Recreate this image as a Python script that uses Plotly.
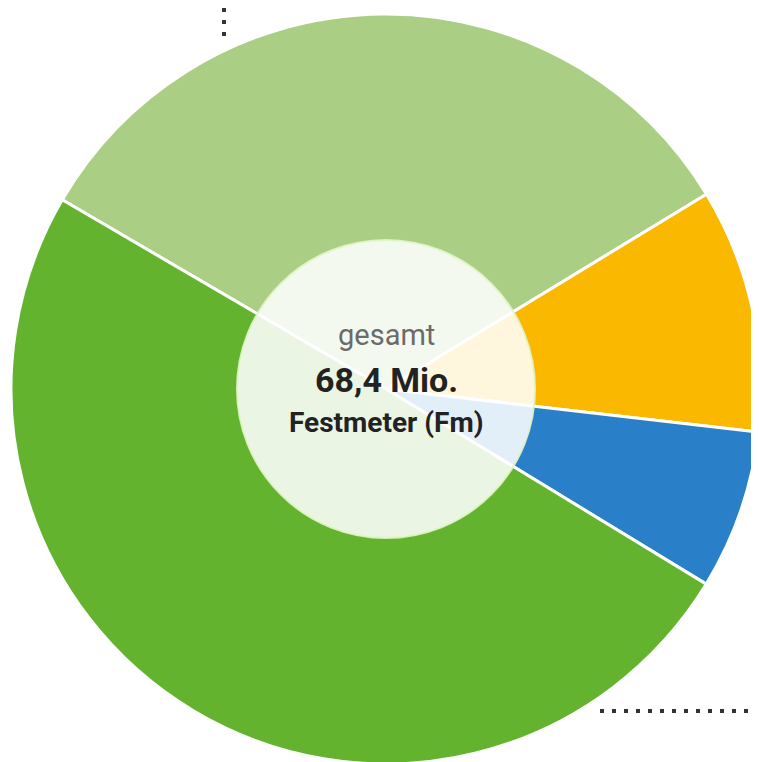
import plotly.graph_objects as go

# Data (Mio. Festmeter), clockwise order starting at the upper-left boundary
categories = ["Kategorie A", "Kategorie B", "Kategorie C", "Kategorie D"]
values = [22.5, 7.2, 4.7, 34.0]
colors = ["#aacf84", "#fbb800", "#2a80c8", "#64b32e"]
total_label = "68,4 Mio."

W, H = 759, 762
OFF = 8  # page body margin offset
cx, cy, R = 386 - OFF, 389 - OFF, 375
r_in = 149

fig = go.Figure()
fig.add_trace(go.Pie(
    labels=categories,
    values=values,
    sort=False,
    direction="clockwise",
    rotation=300.3,
    marker=dict(colors=colors, line=dict(color="white", width=3)),
    textinfo="none",
    hoverinfo="label+value",
    showlegend=False,
    domain=dict(x=[(cx - R) / W, (cx + R) / W], y=[1 - (cy + R) / H, 1 - (cy - R) / H]),
))

# translucent centre disc
fig.add_shape(type="circle", xref="paper", yref="paper",
              x0=(cx - r_in) / W, x1=(cx + r_in) / W,
              y0=1 - (cy + r_in) / H, y1=1 - (cy - r_in) / H,
              fillcolor="rgba(255,255,255,0.87)",
              line=dict(color="rgba(225,245,200,0.9)", width=2))

FONT = "Roboto, Liberation Sans, sans-serif"
fig.add_annotation(x=cx / W, y=1 - (335 - OFF) / H, xref="paper", yref="paper", showarrow=False,
                   text="gesamt", font=dict(family=FONT, size=29, color="#6b6b6b"))
fig.add_annotation(x=cx / W, y=1 - (380 - OFF) / H, xref="paper", yref="paper", showarrow=False,
                   text="<b>" + total_label + "</b>", font=dict(family=FONT, size=34, color="#222222"))
fig.add_annotation(x=cx / W, y=1 - (423 - OFF) / H, xref="paper", yref="paper", showarrow=False,
                   text="<b>Festmeter (Fm)</b>", font=dict(family=FONT, size=28, color="#222222"))

# dotted leader lines
fig.add_shape(type="line", xref="paper", yref="paper", x0=(224 - OFF) / W, x1=(224 - OFF) / W,
              y0=1, y1=1 - (42 - OFF) / H, line=dict(color="#333333", width=4, dash="4px,8px"))
fig.add_shape(type="line", xref="paper", yref="paper", x0=(600 - OFF) / W, x1=1,
              y0=1 - (711 - OFF) / H, y1=1 - (711 - OFF) / H,
              line=dict(color="#333333", width=4, dash="4px,8px"))

fig.update_layout(width=W, height=H, margin=dict(l=0, r=0, t=0, b=0),
                  paper_bgcolor="white", plot_bgcolor="white")
fig.write_html("out.html")
